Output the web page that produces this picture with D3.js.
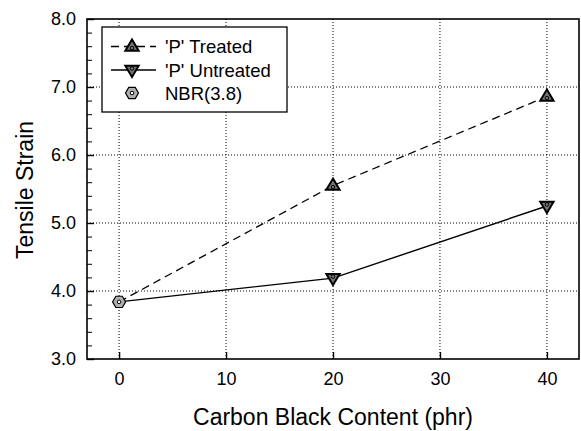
<!DOCTYPE html>
<html><head><meta charset="utf-8">
<script src="https://cdn.jsdelivr.net/npm/d3@7"></script>
<style>body{margin:0;background:#fff}svg{display:block}text{font-family:"Liberation Sans",Arial,sans-serif;fill:#000}</style>
</head><body><svg id="c" width="581" height="431"></svg>
<script>
const contents = [0, 20, 40];
const treated = [3.84, 5.55, 6.86];
const untreated = [3.84, 4.19, 5.25];
const nbr = [{x: 0, y: 3.84}];
const xTicks = [0, 10, 20, 30, 40];
const yTicks = [3, 4, 5, 6, 7, 8];
const legendLabels = ["'P' Treated", "'P' Untreated", "NBR(3.8)"];

const svg = d3.select("#c");
const L = 87, R = 579, T = 19, B = 359;
const x = d3.scaleLinear().domain([-3, 43]).range([L, R]);
const y = d3.scaleLinear().domain([3, 8]).range([B, T]);

// gridlines
const g = svg.append("g");
g.selectAll(".gx").data(xTicks).join("line")
  .attr("x1", d => x(d)).attr("x2", d => x(d)).attr("y1", T).attr("y2", B)
  .attr("stroke", "#000").attr("stroke-width", 1).attr("stroke-dasharray", "1,2");
g.selectAll(".gy").data(yTicks.filter(d => d > 3 && d < 8)).join("line")
  .attr("x1", L).attr("x2", R).attr("y1", d => y(d)).attr("y2", d => y(d))
  .attr("stroke", "#000").attr("stroke-width", 1).attr("stroke-dasharray", "1,2");

// axes
const xAxis = d3.axisBottom(x).tickValues(xTicks).tickSize(-7).tickPadding(13).tickFormat(d3.format("d"));
const ax = svg.append("g").attr("transform", `translate(0,${B})`).call(xAxis);
const yAxis = d3.axisLeft(y).tickValues(yTicks).tickSize(-7).tickPadding(11).tickFormat(d3.format(".1f"));
const ay = svg.append("g").attr("transform", `translate(${L},0)`).call(yAxis);
const yMinor = d3.axisLeft(y).tickValues(d3.range(3, 8.001, 0.2)).tickSize(-5).tickFormat("");
svg.append("g").attr("transform", `translate(${L},0)`).call(yMinor).call(s => s.select(".domain").remove());
[ax, ay].forEach(a => {
  a.select(".domain").remove();
  a.selectAll("text").style("font-size", "18px").style("font-family", "Liberation Sans, Arial, sans-serif");
  a.selectAll("line").attr("stroke-width", 1.4);
});
svg.selectAll(".tick line").attr("stroke", "#000");

// frame
svg.append("rect").attr("x", L).attr("y", T).attr("width", R - L).attr("height", B - T)
  .attr("fill", "none").attr("stroke", "#000").attr("stroke-width", 1.6);

// lines
const line = d3.line().x((d, i) => x(contents[i])).y(d => y(d));
svg.append("path").attr("d", line(treated)).attr("fill", "none").attr("stroke", "#000")
  .attr("stroke-width", 1.3).attr("stroke-dasharray", "8,5");
svg.append("path").attr("d", line(untreated)).attr("fill", "none").attr("stroke", "#000")
  .attr("stroke-width", 1.4);

function triUp(cx, cy) {
  const s = 7;
  return `M${cx},${cy - s}L${cx + s * 0.95},${cy + s * 0.6}L${cx - s * 0.95},${cy + s * 0.6}Z`;
}
function triDown(cx, cy) {
  const s = 7;
  return `M${cx},${cy + s}L${cx + s * 0.95},${cy - s * 0.6}L${cx - s * 0.95},${cy - s * 0.6}Z`;
}
function hexagon(cx, cy) {
  const r = 6.5;
  const pts = d3.range(6).map(i => [cx + r * Math.cos(Math.PI / 3 * i), cy + r * Math.sin(Math.PI / 3 * i)]);
  return "M" + pts.map(p => p.join(",")).join("L") + "Z";
}
function drawTri(sel, cx, cy, up) {
  sel.append("path").attr("d", up ? triUp(cx, cy) : triDown(cx, cy))
    .attr("fill", "#777").attr("stroke", "#000").attr("stroke-width", 2);
  sel.append("circle").attr("cx", cx).attr("cy", cy + (up ? 1.5 : -1.5)).attr("r", 1.8)
    .attr("fill", "none").attr("stroke", "#000").attr("stroke-width", 1);
}
function drawHex(sel, cx, cy) {
  sel.append("path").attr("d", hexagon(cx, cy)).attr("fill", "#b0b0b0").attr("stroke", "#000").attr("stroke-width", 1.2);
  sel.append("circle").attr("cx", cx).attr("cy", cy).attr("r", 1.8).attr("fill", "#fff").attr("stroke", "#000").attr("stroke-width", 1);
}
const mk = svg.append("g");
treated.forEach((v, i) => { if (i > 0) drawTri(mk, x(contents[i]), y(v), true); });
untreated.forEach((v, i) => { if (i > 0) drawTri(mk, x(contents[i]), y(v), false); });
nbr.forEach(d => drawHex(mk, x(d.x), y(d.y)));

// legend
const lg = svg.append("g");
lg.append("rect").attr("x", 102).attr("y", 27).attr("width", 185).attr("height", 85)
  .attr("fill", "#fff").attr("stroke", "#000").attr("stroke-width", 1.3);
const rows = [46.5, 70, 93];
lg.append("line").attr("x1", 111).attr("x2", 156).attr("y1", rows[0]).attr("y2", rows[0])
  .attr("stroke", "#000").attr("stroke-width", 1.3).attr("stroke-dasharray", "8,5");
drawTri(lg, 132, rows[0], true);
lg.append("line").attr("x1", 111).attr("x2", 156).attr("y1", rows[1]).attr("y2", rows[1])
  .attr("stroke", "#000").attr("stroke-width", 1.4);
drawTri(lg, 132, rows[1], false);
drawHex(lg, 132, rows[2]);
legendLabels.forEach((t, i) => {
  lg.append("text").attr("x", 165).attr("y", rows[i]).attr("dy", "0.36em")
    .style("font-size", "18.5px").text(t);
});

// axis titles
svg.append("text").attr("x", x(20)).attr("y", 425).attr("text-anchor", "middle")
  .style("font-size", "23px").text("Carbon Black Content (phr)");
svg.append("text").attr("transform", `translate(33,${(T + B) / 2 + 1}) rotate(-90)`).attr("text-anchor", "middle")
  .style("font-size", "23px").text("Tensile Strain");
</script></body></html>
